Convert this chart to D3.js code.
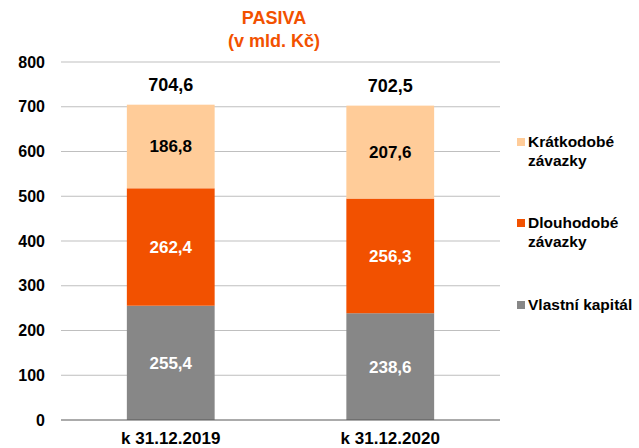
<!DOCTYPE html>
<html>
<head>
<meta charset="utf-8">
<script src="https://cdn.jsdelivr.net/npm/d3@7"></script>
<style>
  body { margin: 0; background: #fff; }
  text { font-family: "Liberation Sans", Arial, sans-serif; font-weight: bold; }
</style>
</head>
<body>
<div id="chart"></div>
<script>
var categories = ["k 31.12.2019", "k 31.12.2020"];
var vlastni = [255.4, 238.6];
var dlouhodobe = [262.4, 256.3];
var kratkodobe = [186.8, 207.6];
var totals = [704.6, 702.5];
var yTicks = [0, 100, 200, 300, 400, 500, 600, 700, 800];

var fmt = function(v) { return v.toFixed(1).replace(".", ","); };

var margin = {top: 62, right: 139, bottom: 28, left: 61},
    width = 639 - margin.left - margin.right,
    height = 448 - margin.top - margin.bottom;

var svg = d3.select("#chart")
            .append("svg")
            .attr("width", 639)
            .attr("height", 448);

var g = svg.append("g")
           .attr("transform", "translate(" + margin.left + "," + margin.top + ")");

var x = d3.scaleBand()
  .domain(categories)
  .range([0, width])
  .paddingInner(0.6)
  .paddingOuter(0.3);

var y = d3.scaleLinear()
  .domain([0, 800])
  .range([height, 0]);

// gridlines
g.append("g")
  .selectAll("line")
  .data(yTicks.filter(function(d){ return d > 0; }))
  .enter()
  .append("line")
    .attr("x1", 0)
    .attr("x2", width)
    .attr("y1", function(d){ return y(d); })
    .attr("y2", function(d){ return y(d); })
    .attr("stroke", "#bfbfbf")
    .attr("stroke-width", 1);

// y tick labels
g.append("g")
  .selectAll("text")
  .data(yTicks)
  .enter()
  .append("text")
    .attr("x", -16)
    .attr("y", function(d){ return y(d); })
    .attr("dy", "0.35em")
    .attr("text-anchor", "end")
    .attr("font-size", "16px")
    .attr("fill", "#000")
    .text(function(d){ return d; });

// stacked data
var rows = categories.map(function(c, i) {
  return {cat: c, v: vlastni[i], d: dlouhodobe[i], k: kratkodobe[i]};
});
var keys = ["v", "d", "k"];
var colors = {v: "#878787", d: "#f25100", k: "#ffcc99"};
var labelColors = {v: "#fff", d: "#fff", k: "#000"};
var stacked = d3.stack().keys(keys)(rows);

var layers = g.selectAll(".layer")
  .data(stacked)
  .enter()
  .append("g")
    .attr("class", "layer")
    .attr("fill", function(d){ return colors[d.key]; });

layers.selectAll("rect")
  .data(function(d){ return d; })
  .enter()
  .append("rect")
    .attr("x", function(d){ return x(d.data.cat); })
    .attr("width", x.bandwidth())
    .attr("y", function(d){ return y(d[1]); })
    .attr("height", function(d){ return y(d[0]) - y(d[1]); });

// segment labels
stacked.forEach(function(layer) {
  g.append("g")
    .selectAll("text")
    .data(layer)
    .enter()
    .append("text")
      .attr("x", function(d){ return x(d.data.cat) + x.bandwidth() / 2; })
      .attr("y", function(d){ return y((d[0] + d[1]) / 2); })
      .attr("dy", "0.35em")
      .attr("text-anchor", "middle")
      .attr("font-size", "17px")
      .attr("fill", labelColors[layer.key])
      .text(function(d){ return fmt(d.data[layer.key]); });
});

// totals
g.append("g")
  .selectAll("text")
  .data(totals)
  .enter()
  .append("text")
    .attr("x", function(d, i){ return x(categories[i]) + x.bandwidth() / 2; })
    .attr("y", function(d){ return y(d) - 14; })
    .attr("text-anchor", "middle")
    .attr("font-size", "18px")
    .attr("fill", "#000")
    .text(function(d){ return fmt(d); });

// baseline
g.append("line")
  .attr("x1", 0)
  .attr("x2", width)
  .attr("y1", y(0))
  .attr("y2", y(0))
  .attr("stroke", "#595959")
  .attr("stroke-width", 1.2);

// x labels
g.append("g")
  .selectAll("text")
  .data(categories)
  .enter()
  .append("text")
    .attr("x", function(d){ return x(d) + x.bandwidth() / 2; })
    .attr("y", height + 24)
    .attr("text-anchor", "middle")
    .attr("font-size", "17px")
    .attr("fill", "#000")
    .text(function(d){ return d; });

// title
svg.append("text")
  .attr("x", 274)
  .attr("y", 24)
  .attr("text-anchor", "middle")
  .attr("font-size", "18px")
  .attr("fill", "#f25100")
  .text("PASIVA");
svg.append("text")
  .attr("x", 274)
  .attr("y", 47)
  .attr("text-anchor", "middle")
  .attr("font-size", "18px")
  .attr("fill", "#f25100")
  .text("(v mld. Kč)");

// legend
var legendItems = [
  {lines: ["Krátkodobé", "závazky"], color: colors.k, y: 147},
  {lines: ["Dlouhodobé", "závazky"], color: colors.d, y: 228},
  {lines: ["Vlastní kapitál"], color: colors.v, y: 310}
];
var legend = svg.append("g");
legendItems.forEach(function(item) {
  legend.append("rect")
    .attr("x", 517)
    .attr("y", item.y - 9)
    .attr("width", 8)
    .attr("height", 8)
    .attr("fill", item.color);
  item.lines.forEach(function(line, j) {
    legend.append("text")
      .attr("x", 528)
      .attr("y", item.y + j * 19)
      .attr("font-size", "15.5px")
      .attr("fill", "#000")
      .text(line);
  });
});
</script>
</body>
</html>
